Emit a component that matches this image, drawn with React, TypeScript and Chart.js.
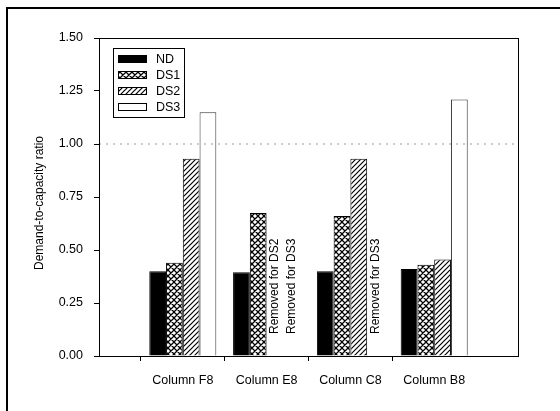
import React, { useEffect, useRef } from "react";
import { Chart, registerables } from "chart.js";

Chart.register(...registerables);

const categories = ["Column F8", "Column E8", "Column C8", "Column B8"];
const seriesNames = ["ND", "DS1", "DS2", "DS3"];
const ND = [0.40, 0.395, 0.40, 0.41];
const DS1 = [0.44, 0.675, 0.66, 0.43];
const DS2 = [0.93, null, 0.93, 0.455];
const DS3 = [1.15, null, null, 1.21];
const yTicks = [0, 0.25, 0.5, 0.75, 1.0, 1.25, 1.5];
const referenceValue = 1.0;
const yTitle = "Demand-to-capacity ratio";
const notes = [
  { category: "Column E8", series: "DS2", text: "Removed for DS2" },
  { category: "Column E8", series: "DS3", text: "Removed for DS3" },
  { category: "Column C8", series: "DS3", text: "Removed for DS3" },
];

const FONT = "'Liberation Sans', Arial, sans-serif";

function makeCrossHatch(): CanvasPattern | string {
  const s = 6;
  const c = document.createElement("canvas");
  c.width = s;
  c.height = s;
  const g = c.getContext("2d");
  if (!g) return "#000";
  g.fillStyle = "#fff";
  g.fillRect(0, 0, s, s);
  g.strokeStyle = "#000";
  g.lineWidth = 1.25;
  g.beginPath();
  g.moveTo(-1, -1); g.lineTo(s + 1, s + 1);
  g.moveTo(-1, s - 1); g.lineTo(1, s + 1);
  g.moveTo(s - 1, -1); g.lineTo(s + 1, 1);
  g.moveTo(-1, s + 1); g.lineTo(s + 1, -1);
  g.moveTo(-1, 1); g.lineTo(1, -1);
  g.moveTo(s - 1, s + 1); g.lineTo(s + 1, s - 1);
  g.stroke();
  return g.createPattern(c, "repeat") || "#000";
}

function makeDiagonal(): CanvasPattern | string {
  const s = 5;
  const c = document.createElement("canvas");
  c.width = s;
  c.height = s;
  const g = c.getContext("2d");
  if (!g) return "#000";
  g.fillStyle = "#fff";
  g.fillRect(0, 0, s, s);
  g.strokeStyle = "#000";
  g.lineWidth = 1.2;
  g.beginPath();
  g.moveTo(-1, s + 1); g.lineTo(s + 1, -1);
  g.moveTo(-1, 1); g.lineTo(1, -1);
  g.moveTo(s - 1, s + 1); g.lineTo(s + 1, s - 1);
  g.stroke();
  return g.createPattern(c, "repeat") || "#000";
}

const pad = (arr: (number | null)[]) => [null, ...arr, null];

export default function App() {
  const ref = useRef<HTMLCanvasElement | null>(null);

  useEffect(() => {
    const canvas = ref.current;
    if (!canvas) return;
    const fills = ["#000", makeCrossHatch(), makeDiagonal(), "#fff"];
    const values = [ND, DS1, DS2, DS3];
    const labels = ["", ...categories, ""];

    const framePlugin = {
      id: "frameAndExtras",
      afterDraw(chart: any) {
        const { ctx, chartArea } = chart;
        const yScale = chart.scales.y;
        ctx.save();
        // plot box
        ctx.strokeStyle = "#000";
        ctx.lineWidth = 1;
        ctx.strokeRect(
          Math.round(chartArea.left) + 0.5,
          Math.round(chartArea.top) + 0.5,
          Math.round(chartArea.right - chartArea.left),
          Math.round(chartArea.bottom - chartArea.top)
        );
        // y title
        ctx.fillStyle = "#000";
        ctx.font = `12px ${FONT}`;
        ctx.textAlign = "center";
        ctx.textBaseline = "middle";
        ctx.save();
        ctx.translate(40, (chartArea.top + chartArea.bottom) / 2 + 6);
        ctx.rotate(-Math.PI / 2);
        ctx.fillText(yTitle, 0, 0);
        ctx.restore();
        // notes
        ctx.textAlign = "left";
        notes.forEach((n) => {
          const di = seriesNames.indexOf(n.series);
          const ci = categories.indexOf(n.category) + 1;
          const el = chart.getDatasetMeta(di).data[ci];
          if (!el) return;
          const x = el.x;
          const y = yScale.getPixelForValue(0) - 22;
          ctx.save();
          ctx.translate(x, y);
          ctx.rotate(-Math.PI / 2);
          ctx.fillText(n.text, 0, 0);
          ctx.restore();
        });
        // legend
        const lx = chartArea.left + 14;
        const ly = chartArea.top + 10;
        const lw = 71;
        const lh = 69;
        ctx.fillStyle = "#fff";
        ctx.fillRect(lx, ly, lw, lh);
        ctx.strokeStyle = "#000";
        ctx.lineWidth = 1;
        ctx.strokeRect(Math.round(lx) + 0.5, Math.round(ly) + 0.5, lw, lh);
        ctx.font = `12.5px ${FONT}`;
        ctx.textBaseline = "middle";
        seriesNames.forEach((name, i) => {
          const cy = Math.round(ly + 10.5 + i * 16);
          ctx.fillStyle = fills[i] as any;
          ctx.fillRect(Math.round(lx) + 5, cy - 4, 29, 8);
          ctx.strokeStyle = "#000";
          ctx.strokeRect(Math.round(lx) + 5.5, cy - 3.5, 28, 7);
          ctx.fillStyle = "#000";
          ctx.fillText(name, Math.round(lx) + 43, cy + 0.5);
        });
        ctx.restore();
      },
    };

    const datasets: any[] = seriesNames.map((name, i) => ({
      type: "bar",
      label: name,
      data: pad(values[i]),
      backgroundColor: fills[i],
      borderColor: i === 3 ? "#333" : "#000",
      borderWidth: 1,
      categoryPercentage: 0.8,
      barPercentage: 1.0,
      order: 2,
    }));
    datasets.push({
      type: "line",
      label: "limit",
      data: labels.map(() => referenceValue),
      borderColor: "#999",
      borderWidth: 1,
      borderDash: [2, 5],
      pointRadius: 0,
      fill: false,
      order: 1,
    });

    const chart = new Chart(canvas, {
      type: "bar",
      data: { labels, datasets },
      options: {
        responsive: false,
        animation: false,
        devicePixelRatio: 1,
        layout: { padding: { left: 0, top: 38, right: 42, bottom: 0 } },
        plugins: {
          legend: { display: false },
          tooltip: { enabled: false },
        },
        scales: {
          x: {
            type: "category",
            offset: false,
            grid: {
              drawOnChartArea: false,
              drawTicks: true,
              tickLength: 5,
              color: (c: any) =>
                c.index === 0 || c.index === labels.length - 1 ? "rgba(0,0,0,0)" : "#000",
            },
            border: { display: true, color: "#000", width: 1 },
            ticks: {
              color: "#000",
              font: { family: FONT, size: 12.5 },
              padding: 12,
              maxRotation: 0,
              autoSkip: false,
            },
            afterFit: (s: any) => {
              s.height = 55;
            },
          },
          y: {
            min: 0,
            max: 1.5,
            afterBuildTicks: (s: any) => {
              s.ticks = yTicks.map((v) => ({ value: v }));
            },
            grid: {
              drawOnChartArea: false,
              drawTicks: true,
              tickLength: 5,
              color: "#000",
            },
            border: { display: true, color: "#000", width: 1 },
            ticks: {
              color: "#000",
              font: { family: FONT, size: 12.5 },
              padding: 11,
              callback: (v: any) => Number(v).toFixed(2),
            },
            afterFit: (s: any) => {
              s.width = 99;
            },
          },
        },
      },
      plugins: [framePlugin],
    });
    return () => chart.destroy();
  }, []);

  return (
    <div
      style={{
        position: "fixed",
        left: 0,
        top: 0,
        width: 560,
        height: 411,
        overflow: "hidden",
        background: "#fff",
      }}
    >
      <canvas
        ref={ref}
        width={560}
        height={411}
        style={{ position: "absolute", left: 0, top: 0, width: 560, height: 411 }}
      />
      <div
        style={{
          position: "absolute",
          left: 6,
          top: 7,
          width: 700,
          height: 600,
          border: "2px solid #000",
          boxSizing: "border-box",
          pointerEvents: "none",
        }}
      />
    </div>
  );
}
